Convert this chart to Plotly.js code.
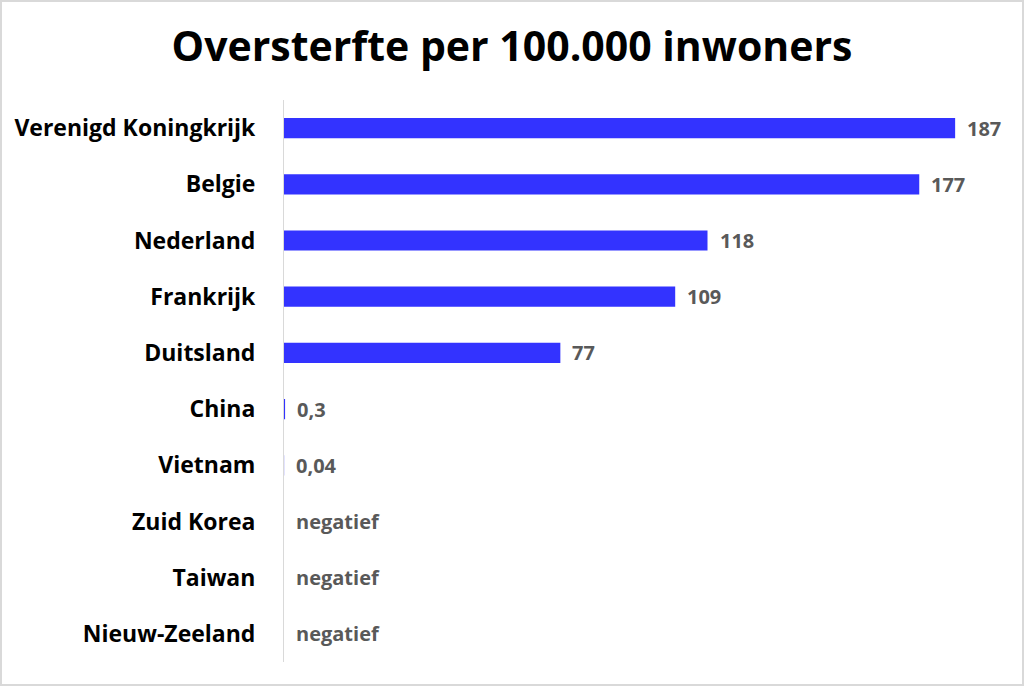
<!DOCTYPE html>
<html>
<head>
<meta charset="utf-8">
<script src="https://cdn.plot.ly/plotly-3.0.1.min.js"></script>
<style>
  html, body { margin: 0; padding: 0; background: #fff; }
  #wrap { position: relative; width: 1024px; height: 686px; }
  #chart { width: 1024px; height: 686px; font-variant-ligatures: none; }
  #chart text { font-variant-ligatures: none; }
  #frame { position: absolute; left: 0; top: 0; width: 1024px; height: 686px; box-sizing: border-box; border: 2px solid #d9d9d9; pointer-events: none; }
</style>
</head>
<body>
<div id="wrap"><div id="chart"></div><div id="frame"></div></div>
<script>
const categories = ["Verenigd Koningkrijk", "Belgie", "Nederland", "Frankrijk", "Duitsland", "China", "Vietnam", "Zuid Korea", "Taiwan", "Nieuw-Zeeland"];
const values = [187, 177, 118, 109, 77, 0.3, 0.04, 0, 0, 0];
const valueLabels = ["187", "177", "118", "109", "77", "0,3", "0,04", "negatief", "negatief", "negatief"];
const chartTitle = "Oversterfte per 100.000 inwoners";

const fontFam = "'Open Sans', Carlito, Lato, sans-serif";

const trace = {
  type: "bar",
  orientation: "h",
  y: categories,
  x: values,
  marker: { color: "#3333ff" },
  hoverinfo: "none"
};

const annotations = categories.map((c, i) => ({
  x: values[i], y: c, xref: "x", yref: "y",
  text: "<b>" + valueLabels[i] + "</b>",
  showarrow: false,
  xanchor: "left", yanchor: "middle",
  xshift: 10,
  font: { family: fontFam, size: 20, color: "#595959" }
}));

const layout = {
  width: 1024,
  height: 686,
  margin: { l: 284, r: 24, t: 100, b: 24 },
  paper_bgcolor: "#ffffff",
  plot_bgcolor: "#ffffff",
  bargap: 0.64,
  showlegend: false,
  annotations: annotations,
  title: {
    text: "<b>" + chartTitle + "</b>",
    x: 0.5, xanchor: "center",
    y: 1 - 47 / 686, yanchor: "middle",
    font: { family: fontFam, size: 41, color: "#000000" }
  },
  xaxis: {
    range: [0, 199.5],
    visible: false,
    showgrid: false,
    zeroline: false,
    fixedrange: true
  },
  yaxis: {
    autorange: "reversed",
    type: "category",
    showline: true,
    linecolor: "#d9d9d9",
    linewidth: 1,
    ticks: "",
    ticklabelstandoff: 23,
    showgrid: false,
    zeroline: false,
    tickfont: { family: fontFam, size: 23, color: "#000000", weight: "bold" }
  }
};

Plotly.newPlot("chart", [trace], layout, { displayModeBar: false, staticPlot: true });
</script>
</body>
</html>
